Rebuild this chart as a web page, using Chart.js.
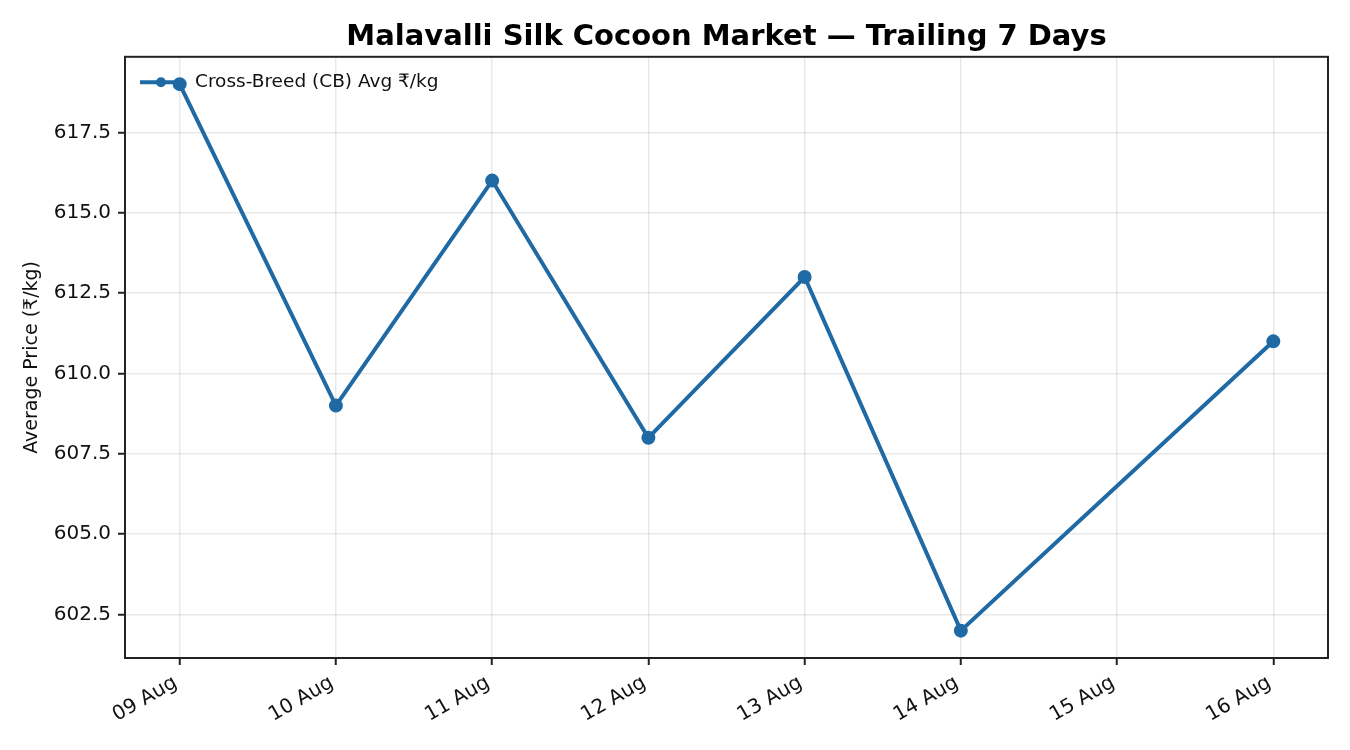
<!DOCTYPE html>
<html>
<head>
<meta charset="utf-8">
<script src="https://cdn.jsdelivr.net/npm/chart.js@4/dist/chart.umd.min.js"></script>
<style>
  html, body { margin: 0; padding: 0; background: #fff; }
  #chartBox { width: 1350px; height: 750px; }
</style>
</head>
<body>
<div id="chartBox"><canvas id="lineCanvas"></canvas></div>
<script>
const dayLabels = ["09 Aug", "10 Aug", "11 Aug", "12 Aug", "13 Aug", "14 Aug", "15 Aug", "16 Aug"];
const cbPrices = [619, 609, 616, 608, 613, 602, null, 611];
const yTicks = [602.5, 605.0, 607.5, 610.0, 612.5, 615.0, 617.5];

const seriesName = "Cross-Breed (CB) Avg ₹/kg";
const lineColor = "#1f6aa5";
const fontFamily = "'DejaVu Sans', sans-serif";

// matplotlib style 5% margins
const valid = cbPrices.filter((v) => v !== null);
const yLo = Math.min(...valid), yHi = Math.max(...valid);
const yPad = (yHi - yLo) * 0.05;
const xPad = (dayLabels.length - 1) * 0.05;

const points = cbPrices
  .map((v, i) => ({ x: i, y: v }))
  .filter((p) => p.y !== null);

// frame around plot + legend in the upper left corner
const framePlugin = {
  id: "frame",
  afterDraw(chart) {
    const { ctx, chartArea: a } = chart;
    ctx.save();
    ctx.strokeStyle = "#222";
    ctx.lineWidth = 2;
    ctx.strokeRect(a.left, a.top, a.right - a.left, a.bottom - a.top);

    const ly = a.top + 25.5;
    const lx = a.left + 15;
    ctx.strokeStyle = lineColor;
    ctx.lineWidth = 4;
    ctx.beginPath();
    ctx.moveTo(lx, ly);
    ctx.lineTo(lx + 42, ly);
    ctx.stroke();
    ctx.fillStyle = lineColor;
    ctx.beginPath();
    ctx.arc(lx + 21, ly, 5, 0, Math.PI * 2);
    ctx.fill();
    ctx.fillStyle = "#111";
    ctx.font = "18.5px " + fontFamily;
    ctx.textBaseline = "middle";
    ctx.fillText(seriesName, lx + 55, ly);
    ctx.restore();
  },
};

new Chart(document.getElementById("lineCanvas"), {
  type: "line",
  data: {
    datasets: [
      {
        label: seriesName,
        data: points,
        borderColor: lineColor,
        backgroundColor: lineColor,
        borderWidth: 4,
        pointRadius: 5,
        pointHoverRadius: 5,
        tension: 0,
      },
    ],
  },
  options: {
    responsive: true,
    maintainAspectRatio: false,
    animation: false,
    layout: { padding: { left: 0, right: 22, top: 0, bottom: 0 } },
    plugins: {
      legend: { display: false },
      tooltip: { enabled: false },
      title: {
        display: true,
        fullSize: false,
        text: "Malavalli Silk Cocoon Market — Trailing 7 Days",
        color: "#000",
        font: { family: fontFamily, size: 29, weight: "bold", lineHeight: 1.2 },
        padding: { top: 20, bottom: 2 },
      },
    },
    scales: {
      x: {
        type: "linear",
        min: -xPad,
        max: dayLabels.length - 1 + xPad,
        afterBuildTicks: (scale) => {
          scale.ticks = dayLabels.map((_, i) => ({ value: i }));
        },
        afterFit: (scale) => {
          scale.height = 92;
        },
        ticks: {
          callback: (v) => dayLabels[v],
          color: "#111",
          font: { family: fontFamily, size: 20 },
          minRotation: 30,
          maxRotation: 30,
          padding: 6,
          labelOffset: -4,
        },
        grid: {
          color: "rgba(0,0,0,0.09)",
          lineWidth: 1.5,
          tickColor: "#222",
          tickLength: 7,
          tickWidth: 2,
        },
        border: { display: false },
      },
      y: {
        min: yLo - yPad,
        max: yHi + yPad,
        afterBuildTicks: (scale) => {
          scale.ticks = yTicks.map((v) => ({ value: v }));
        },
        afterFit: (scale) => {
          scale.width = 125;
        },
        ticks: {
          callback: (v) => v.toFixed(1),
          color: "#111",
          font: { family: fontFamily, size: 20 },
          padding: 7,
        },
        grid: {
          color: "rgba(0,0,0,0.09)",
          lineWidth: 1.5,
          tickColor: "#222",
          tickLength: 7,
          tickWidth: 2,
        },
        border: { display: false },
        title: {
          display: true,
          text: "Average Price (₹/kg)",
          color: "#111",
          font: { family: fontFamily, size: 19 },
          padding: { top: 21, bottom: 0 },
        },
      },
    },
  },
  plugins: [framePlugin],
});
</script>
</body>
</html>
